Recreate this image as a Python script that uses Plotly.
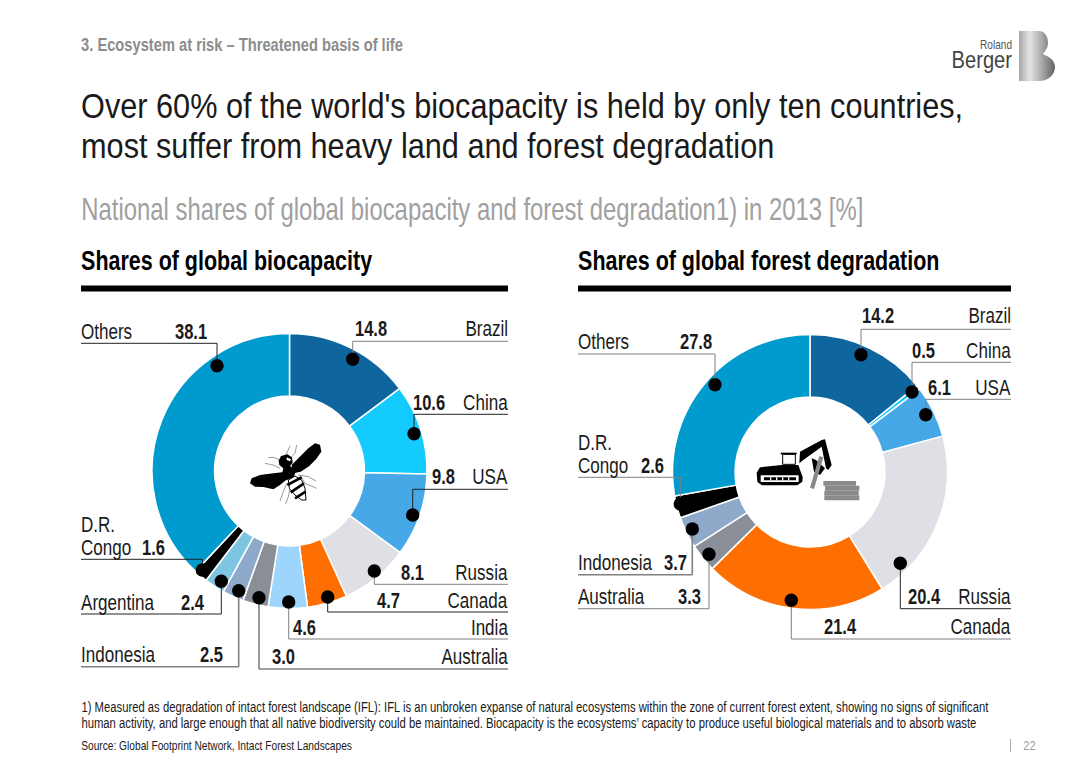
import plotly.graph_objects as go

W, H = 1080, 763

# national shares read from the two donuts [%]
bio_countries = ["Brazil", "China", "USA", "Russia", "Canada", "India", "Australia",
                 "Indonesia", "Argentina", "D.R. Congo", "Others"]
bio_shares = [14.8, 10.6, 9.8, 8.1, 4.7, 4.6, 3.0, 2.5, 2.4, 1.6, 38.1]

deg_countries = ["Brazil", "China", "USA", "Russia", "Canada", "Australia",
                 "Indonesia", "D.R. Congo", "Others"]
deg_shares = [14.2, 0.5, 6.1, 20.4, 21.4, 3.3, 3.7, 2.6, 27.8]

colors = {"Brazil": "#0f669f", "China": "#14cbff", "USA": "#47a8e8", "Russia": "#dfdfe6",
          "Canada": "#ff6e00", "India": "#9dd5fc", "Australia": "#8a8f97",
          "Indonesia": "#8fa9cb", "Argentina": "#7ec5e2", "D.R. Congo": "#000000",
          "Others": "#009bce"}

FONT = "Liberation Sans"


def px(x):
    return x / W


def py(y):
    return 1 - y / H


shapes = []
annotations = []


def text(x, y, s, size, color="#1a1a1a", anchor="left", bold=False, squeeze=0.775):
    if bold:
        s = "<b>" + s + "</b>"
    # the horizontal squeeze travels in the annotation name, see the script at the bottom
    annotations.append(dict(x=px(x), y=py(y), xref="paper", yref="paper", text=s, showarrow=False,
                            xanchor=anchor, yanchor="middle", borderpad=0, borderwidth=0, name=str(squeeze),
                            font=dict(family=FONT, size=size, color=color)))


def line(x0, y0, x1, y1, color="#555555", width=1.0):
    shapes.append(dict(type="line", xref="paper", yref="paper", x0=px(x0), y0=py(y0), x1=px(x1), y1=py(y1),
                       line=dict(color=color, width=width)))


def dot(x, y, r=6.7):
    shapes.append(dict(type="circle", xref="paper", yref="paper", x0=px(x - r), x1=px(x + r),
                       y0=py(y - r), y1=py(y + r), fillcolor="#000000", line=dict(width=0)))


def icon_points(points, ox, oy):
    # icon outlines were traced on a 3x crop
    return [(px(ox + a / 3), py(oy + b / 3)) for a, b in points]


def poly(points, ox, oy, fill="#000000", outline=None, width=0, closed=True):
    pts = icon_points(points, ox, oy)
    d = "M " + " L ".join(f"{a:.5f},{b:.5f}" for a, b in pts)
    if closed:
        d += " Z"
    shapes.append(dict(type="path", xref="paper", yref="paper", path=d,
                       fillcolor=fill if closed else "rgba(0,0,0,0)",
                       line=dict(color=outline or fill, width=width)))


def callouts(items, left, right, dark, wide):
    # country, value, side, rule y, dot x, dot y, text y, value x
    for name, value, side, rule_y, dot_x, dot_y, text_y, value_x in items:
        rule_color = "#222222" if name in dark else "#808080"
        rule_width = 1.6 if name in wide else 1.0
        if side == "R":
            line(right, rule_y, dot_x, rule_y, rule_color, rule_width)
            text(right, text_y, name, 22, anchor="right")
        else:
            line(left, rule_y, dot_x, rule_y, rule_color, rule_width)
            if name.startswith("D.R."):
                text(left, text_y - 23, "D.R.", 22)
                text(left, text_y, "Congo", 22)
            else:
                text(left, text_y, name, 22)
        line(dot_x, rule_y, dot_x, dot_y, rule_color, rule_width)
        dot(dot_x, dot_y)
        text(value_x, text_y, f"{value:.1f}", 22, anchor="left", bold=True, squeeze=0.75)


bio = dict(zip(bio_countries, bio_shares))
deg = dict(zip(deg_countries, deg_shares))

callouts([
    ("Brazil", bio["Brazil"], "R", 341.3, 352.7, 359.3, 328, 355),
    ("China", bio["China"], "R", 414.3, 414, 433.7, 402.7, 413),
    ("USA", bio["USA"], "R", 489.3, 412.7, 515, 477, 432),
    ("Russia", bio["Russia"], "R", 584.3, 374.3, 571, 572.7, 401),
    ("Canada", bio["Canada"], "R", 612, 327.7, 597, 600, 377),
    ("India", bio["India"], "R", 639, 288.7, 602, 627, 293),
    ("Australia", bio["Australia"], "R", 669, 259, 597.7, 656.7, 272),
    ("Indonesia", bio["Indonesia"], "L", 666.7, 238.7, 590.7, 654, 200),
    ("Argentina", bio["Argentina"], "L", 614, 221.3, 581.3, 602.7, 181),
    ("D.R. Congo", bio["D.R. Congo"], "L", 559.3, 202.3, 570, 547, 141.7),
    ("Others", bio["Others"], "L", 343.3, 217, 365.7, 331.7, 175),
], 81, 508, {"China", "USA", "Canada", "Argentina", "D.R. Congo", "Others"}, {"Australia", "Indonesia"})

callouts([
    ("Brazil", deg["Brazil"], "R", 329.3, 861, 354.7, 315.7, 861.7),
    ("China", deg["China"], "R", 362.3, 912, 392, 350, 912.3),
    ("USA", deg["USA"], "R", 399.3, 925.7, 414.7, 387.7, 927.7),
    ("Russia", deg["Russia"], "R", 608.7, 900.3, 563.3, 596.7, 908.3),
    ("Canada", deg["Canada"], "R", 639, 791.3, 600.3, 626.7, 824),
    ("Others", deg["Others"], "L", 354, 715, 384.7, 341.3, 680.5),
    ("D.R. Congo", deg["D.R. Congo"], "L", 477.3, 680.3, 504, 465.7, 640.7),
    ("Indonesia", deg["Indonesia"], "L", 574.7, 692.3, 529, 562.7, 663.7),
    ("Australia", deg["Australia"], "L", 608.7, 709, 554.3, 596, 677.7),
], 578, 1011, {"Russia"}, {"Indonesia"})

# thick rules under the panel headings
for x0, x1 in [(81, 508), (578, 1011)]:
    line(x0, 288.5, x1, 288.5, color="#000000", width=6)

# page texts
text(81, 45.5, "3. Ecosystem at risk – Threatened basis of life", 17.5, color="#8c8c8c", bold=True, squeeze=0.84)
text(81, 106, "Over 60% of the world's biocapacity is held by only ten countries,", 36, squeeze=0.852)
text(81, 146, "most suffer from heavy land and forest degradation", 36, squeeze=0.852)
text(81, 209, "National shares of global biocapacity and forest degradation1) in 2013 [%]", 31, color="#a0a0a0", squeeze=0.771)
text(81, 260.5, "Shares of global biocapacity", 28, color="#000000", bold=True, squeeze=0.767)
text(578, 260.5, "Shares of global forest degradation", 28, color="#000000", bold=True, squeeze=0.767)
text(81, 707, "1) Measured as degradation of intact forest landscape (IFL): IFL is an unbroken expanse of natural ecosystems within the zone of current forest extent, showing no signs of significant", 14, squeeze=0.806)
text(81, 723, "human activity, and large enough that all native biodiversity could be maintained. Biocapacity is the ecosystems’ capacity to produce useful biological materials and to absorb waste", 14, squeeze=0.806)
text(81, 745.5, "Source: Global Footprint Network, Intact Forest Landscapes", 13, squeeze=0.785)
text(1035, 745.5, "22", 13, color="#999999", anchor="right", squeeze=0.84)
line(1010.5, 739, 1010.5, 752, color="#aaaaaa", width=1)

# logo
text(1012, 45, "Roland", 12, color="#555555", anchor="right", squeeze=0.84)
text(1012, 59.5, "Berger", 24, color="#444444", anchor="right", squeeze=0.84)
logo_b = ("data:image/svg+xml;utf8,<svg xmlns='http://www.w3.org/2000/svg' viewBox='0 0 36 50'>"
          "<defs><linearGradient id='g'><stop offset='0' stop-color='%23a8a8a8'/>"
          "<stop offset='0.3' stop-color='%23e4e4e4'/><stop offset='0.6' stop-color='%23b0b0b0'/>"
          "<stop offset='1' stop-color='%23626262'/></linearGradient></defs>"
          "<path fill='url(%23g)' d='M0 0H20C27 0 29 7 29 12C29 17 26 20 24 23C30 26 36 29 36 36"
          "C36 44 29 50 20 50H0Z'/></svg>")

# bee icon
bee_x, bee_y = 230, 420
for pts in [[(168, 105), (180, 78)],
            [(185, 110), (195, 100), (200, 75)],
            [(150, 120), (130, 112), (115, 113)],
            [(150, 145), (130, 135), (105, 130)],
            [(205, 165), (235, 170), (258, 183)],
            [(210, 165), (225, 190), (260, 205)],
            [(170, 190), (160, 215), (150, 243)],
            [(180, 205), (175, 230), (167, 252)]]:
    poly(pts, bee_x, bee_y, outline="#555555", width=0.6, closed=False)
poly([(185, 135), (205, 115), (235, 85), (255, 70), (270, 74), (274, 95), (258, 118), (238, 138),
      (212, 155), (190, 160)], bee_x, bee_y)
poly([(170, 155), (130, 160), (90, 165), (65, 175), (60, 190), (75, 200), (100, 201), (130, 208),
      (150, 195), (175, 175)], bee_x, bee_y)
poly([(175, 180), (195, 168), (215, 180), (225, 205), (228, 240), (215, 240), (195, 225), (178, 205)],
     bee_x, bee_y, fill="#ffffff", outline="#000000", width=1)
for pts in [[(172, 195), (215, 172)], [(182, 217), (222, 190)], [(195, 235), (227, 215)]]:
    poly(pts, bee_x, bee_y, outline="#000000", width=2.6, closed=False)
poly([(146, 122), (153, 108), (172, 103), (186, 112), (188, 128), (180, 138), (198, 150), (192, 170),
      (172, 180), (155, 165), (160, 145), (148, 135)], bee_x, bee_y)
poly([(170, 112), (183, 118), (180, 124), (170, 120)], bee_x, bee_y, fill="#ffffff")

# excavator icon
dig_x, dig_y = 740, 420
poly([(50, 158), (60, 142), (125, 135), (175, 135), (188, 172), (187, 185), (172, 196), (66, 196),
      (52, 186)], dig_x, dig_y)
poly([(62, 166), (176, 166), (176, 186), (62, 186)], dig_x, dig_y, fill="#ffffff")
poly([(72, 172), (168, 172), (168, 181), (72, 181)], dig_x, dig_y)
for tick in [90, 108, 126, 144]:
    poly([(tick, 172), (tick + 4, 172), (tick + 4, 181), (tick, 181)], dig_x, dig_y, fill="#ffffff")
poly([(128, 103), (166, 103), (166, 133), (128, 133)], dig_x, dig_y, fill="#ffffff", outline="#000000", width=1)
poly([(122, 98), (170, 98), (170, 103), (122, 103)], dig_x, dig_y)
poly([(180, 95), (245, 60), (255, 58), (275, 135), (265, 150), (258, 145), (245, 80), (190, 120),
      (178, 130)], dig_x, dig_y)
poly([(215, 115), (228, 120), (255, 145), (240, 165), (222, 155)], dig_x, dig_y)
poly([(238, 108), (250, 112), (222, 207), (210, 203)], dig_x, dig_y, fill="#888888")
poly([(250, 183), (348, 183), (348, 197), (250, 197)], dig_x, dig_y, fill="#8a8a8a")
poly([(255, 197), (358, 197), (358, 212), (255, 212)], dig_x, dig_y, fill="#8a8a8a")
poly([(253, 212), (356, 212), (356, 226), (253, 226)], dig_x, dig_y, fill="#8a8a8a")
poly([(253, 226), (358, 226), (358, 241), (253, 241)], dig_x, dig_y, fill="#8a8a8a")

fig = go.Figure()
fig.add_trace(go.Pie(
    labels=bio_countries, values=bio_shares, sort=False, direction="clockwise", rotation=0,
    hole=0.545, textinfo="none", hoverinfo="label+value",
    marker=dict(colors=[colors[c] for c in bio_countries], line=dict(color="#ffffff", width=1.5)),
    domain=dict(x=[px(152), px(427)], y=[py(608.5), py(333.5)]),
))
fig.add_trace(go.Pie(
    labels=deg_countries, values=deg_shares, sort=False, direction="clockwise", rotation=0,
    hole=0.545, textinfo="none", hoverinfo="label+value",
    marker=dict(colors=[colors[c] for c in deg_countries], line=dict(color="#ffffff", width=1.5)),
    domain=dict(x=[px(672.5), px(947.5)], y=[py(609.5), py(334.5)]),
))

fig.update_layout(
    width=W, height=H,
    margin=dict(l=0, r=0, t=0, b=0),
    paper_bgcolor="#ffffff",
    showlegend=False,
    shapes=shapes,
    annotations=annotations,
    images=[dict(source=logo_b, xref="paper", yref="paper", x=px(1019), y=py(31), sizex=36 / W, sizey=50 / H,
                 xanchor="left", yanchor="top", sizing="stretch", layer="above")],
)

# no narrow font is installed, so squeeze the text horizontally around its anchor
squeeze = """
document.body.style.margin='0';document.body.style.overflow='hidden';
var gd=document.querySelector('.plotly-graph-div');
document.querySelectorAll('g.annotation').forEach(function(g){
  var a=gd.layout.annotations[+g.getAttribute('data-index')];
  var t=g.querySelector('text.annotation-text');
  var b=t.getBBox();
  var ox=a.xanchor==='right'?b.x+b.width:b.x;
  t.setAttribute('transform','translate('+ox+',0) scale('+a.name+',1) translate('+(-ox)+',0)');
});
"""
fig.write_html("out.html", post_script=squeeze, config={"displayModeBar": False})
